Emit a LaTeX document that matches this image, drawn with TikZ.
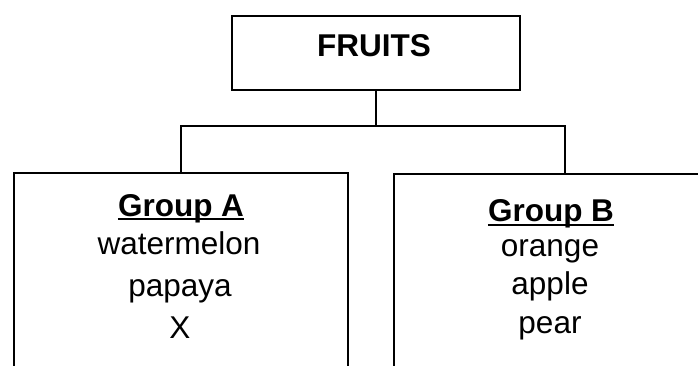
\documentclass[tikz,border=0pt]{standalone}
\usepackage{fontspec}
\setmainfont{Liberation Sans}
\begin{document}
\begin{tikzpicture}[x=1pt,y=-1pt,
  box/.style={draw, line width=1.7pt, inner sep=0pt},
  conn/.style={draw, line width=1.7pt},
  txt/.style={inner sep=0pt, anchor=base, font=\fontsize{31.5}{38}\selectfont},
  hd/.style={inner sep=0pt, anchor=base, font=\bfseries\fontsize{31.5}{38}\selectfont},
  ul/.style={line width=2pt}]
\useasboundingbox (0,0) rectangle (698,366);
\clip (0,0) rectangle (698,366);
% boxes
\node[box, minimum width=288pt, minimum height=74pt] (fruits) at (376,53) {};
\node[box, minimum width=334pt, minimum height=240pt] (groupA) at (181,293) {};
\node[box, minimum width=312pt, minimum height=240pt] (groupB) at (550,294) {};
% connectors
\coordinate (bus) at (0,126);
\coordinate (dropB) at (565,174);
\draw[conn] (fruits.south) -- (fruits.south |- bus);
\draw[conn] (groupA.north) |- (bus -| dropB) -- (dropB);
% texts
\node[hd] (fruitslbl) at (374,57) {FRUITS};
\node[hd] (ga) at (181,216) {Group A};
\node[txt] (wm) at (179,254) {watermelon};
\node[txt] (pp) at (180,296) {papaya};
\node[txt] (xx) at (180,338) {X};
\node[hd] (gb) at (551,221) {Group B};
\node[txt] (or) at (550,256) {orange};
\node[txt] (ap) at (550,294) {apple};
\node[txt] (pr) at (550,333) {pear};
% underlines
\draw[ul] ([yshift=-3pt]ga.base west) -- ([yshift=-3pt]ga.base east);
\draw[ul] ([yshift=-3.5pt]gb.base west) -- ([yshift=-3.5pt]gb.base east);
\end{tikzpicture}
\end{document}
